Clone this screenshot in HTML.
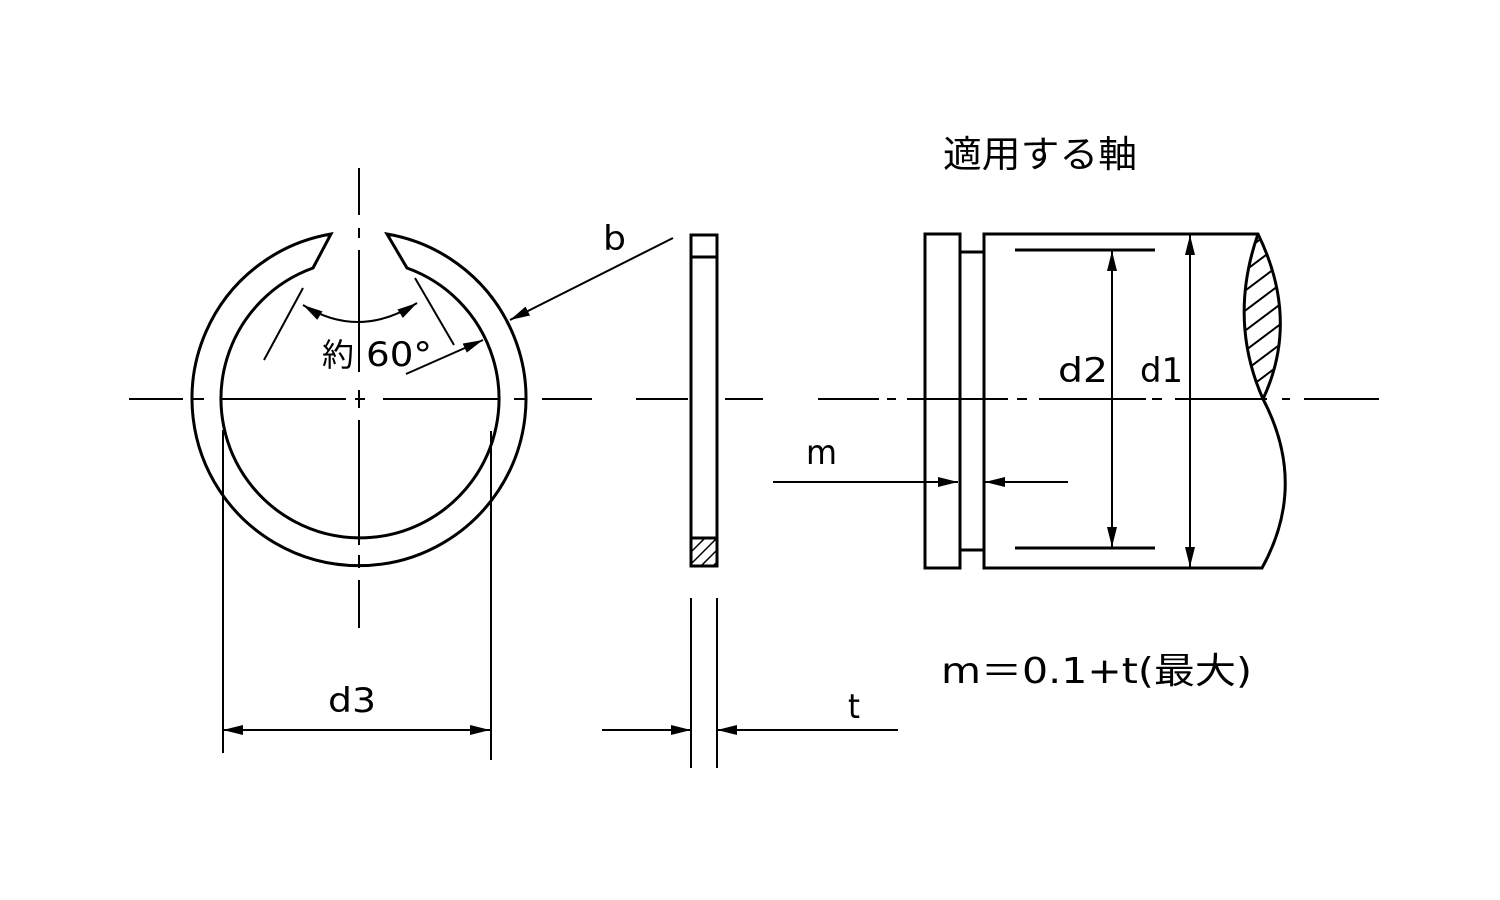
<!DOCTYPE html>
<html><head><meta charset="utf-8"><style>
html,body{margin:0;padding:0;background:#fff;}
svg{display:block;}
text{font-family:"DejaVu Sans","Noto Sans CJK JP",sans-serif;fill:#000;}
</style></head><body>
<svg width="1500" height="900" viewBox="0 0 1500 900" xmlns="http://www.w3.org/2000/svg">
<defs>
<marker id="a" viewBox="0 0 20 10" refX="20" refY="5" markerWidth="20" markerHeight="10" markerUnits="userSpaceOnUse" orient="auto"><path d="M0,0L20,5L0,10z" fill="#000"/></marker>
<marker id="s" viewBox="0 0 20 10" refX="0" refY="5" markerWidth="20" markerHeight="10" markerUnits="userSpaceOnUse" orient="auto"><path d="M20,0L0,5L20,10z" fill="#000"/></marker>
<clipPath id="hc"><rect x="692" y="539" width="24" height="26"/></clipPath>
<clipPath id="sc"><path d="M1258,234 Q1228,320 1263,399 Q1300,320 1258,234z"/></clipPath>
</defs>
<g stroke="#000" stroke-width="2" fill="none">
<path d="M129,399H183M193,399H204M221,399H346M355,399H365M383,399H500M514,399H527M542,399H592M636,399H688M725,399H763M818,399H879M887,399H896M907,399H1008M1017,399H1027M1039,399H1146M1152,399H1162M1175,399H1267M1282,399H1290M1304,399H1379"/>
<path d="M359,168V215M359,228V238M359,250V372M359,390V408M359,420V545M359,555V568M359,580V628"/>
<path stroke-width="3" d="M387,234 A167,167 0 1 1 331,234 L313,268 A139,139 0 1 0 407,268 Z"/>
<path d="M303,288L264,360M415,278L454,345"/>
<path d="M303,305 Q359,340 417,303" marker-start="url(#s)" marker-end="url(#a)"/>
<path d="M673,238L510,320" marker-end="url(#a)"/>
<path d="M406,374L483,340" marker-end="url(#a)"/>
<path d="M223,430V753M491,431V760"/>
<path d="M223,730H490" marker-start="url(#s)" marker-end="url(#a)"/>
<rect x="691" y="235" width="26" height="331" stroke-width="3"/>
<path stroke-width="3" d="M691,257H717M691,538H717"/>
<g clip-path="url(#hc)" stroke-width="1.5"><path d="M680,575L720,535M680,587L720,547M680,563L720,523M680,599L720,559M680,551L720,511"/></g>
<path d="M691,598V768M717,598V768"/>
<path d="M602,730H691" marker-end="url(#a)"/>
<path d="M898,730H717" marker-end="url(#a)"/>
<rect x="925" y="234" width="35" height="334" stroke-width="3"/>
<rect x="960" y="252" width="24" height="298" stroke-width="3"/>
<path stroke-width="3" d="M984,234H1258 Q1300,320 1263,399 Q1308,485 1262,568 H984Z"/>
<path stroke-width="3" d="M1258,234 Q1228,320 1263,399"/>
<g clip-path="url(#sc)" stroke-width="2"><path d="M1230,262L1290,217M1230,282L1290,237M1230,302L1290,257M1230,322L1290,277M1230,342L1290,297M1230,362L1290,317M1230,382L1290,337M1230,402L1290,357M1230,422L1290,377"/></g>
<path stroke-width="3" d="M1015,250H1155M1015,548H1155"/>
<path d="M1112,251V547" marker-start="url(#s)" marker-end="url(#a)"/>
<path d="M1190,235V567" marker-start="url(#s)" marker-end="url(#a)"/>
<path d="M773,482H958" marker-end="url(#a)"/>
<path d="M1068,482H985" marker-end="url(#a)"/>
</g>
<g font-size="34">
<text x="603" y="250" textLength="23" lengthAdjust="spacingAndGlyphs">b</text>
<text x="322" y="366" font-size="32">約</text>
<text x="366" y="366" textLength="66" lengthAdjust="spacingAndGlyphs">60°</text>
<text x="328" y="712" textLength="48" lengthAdjust="spacingAndGlyphs">d3</text>
<text x="848" y="718" textLength="12" lengthAdjust="spacingAndGlyphs">t</text>
<text x="806" y="464" textLength="31" lengthAdjust="spacingAndGlyphs">m</text>
<text x="1058" y="382" textLength="50" lengthAdjust="spacingAndGlyphs">d2</text>
<text x="1140" y="382" textLength="43" lengthAdjust="spacingAndGlyphs">d1</text>
<text x="943" y="167" font-size="37" textLength="194" lengthAdjust="spacingAndGlyphs">適用する軸</text>
<text x="941" y="683" font-size="36" textLength="311" lengthAdjust="spacingAndGlyphs">m＝0.1+t(最大)</text>
</g>
</svg>
</body></html>
